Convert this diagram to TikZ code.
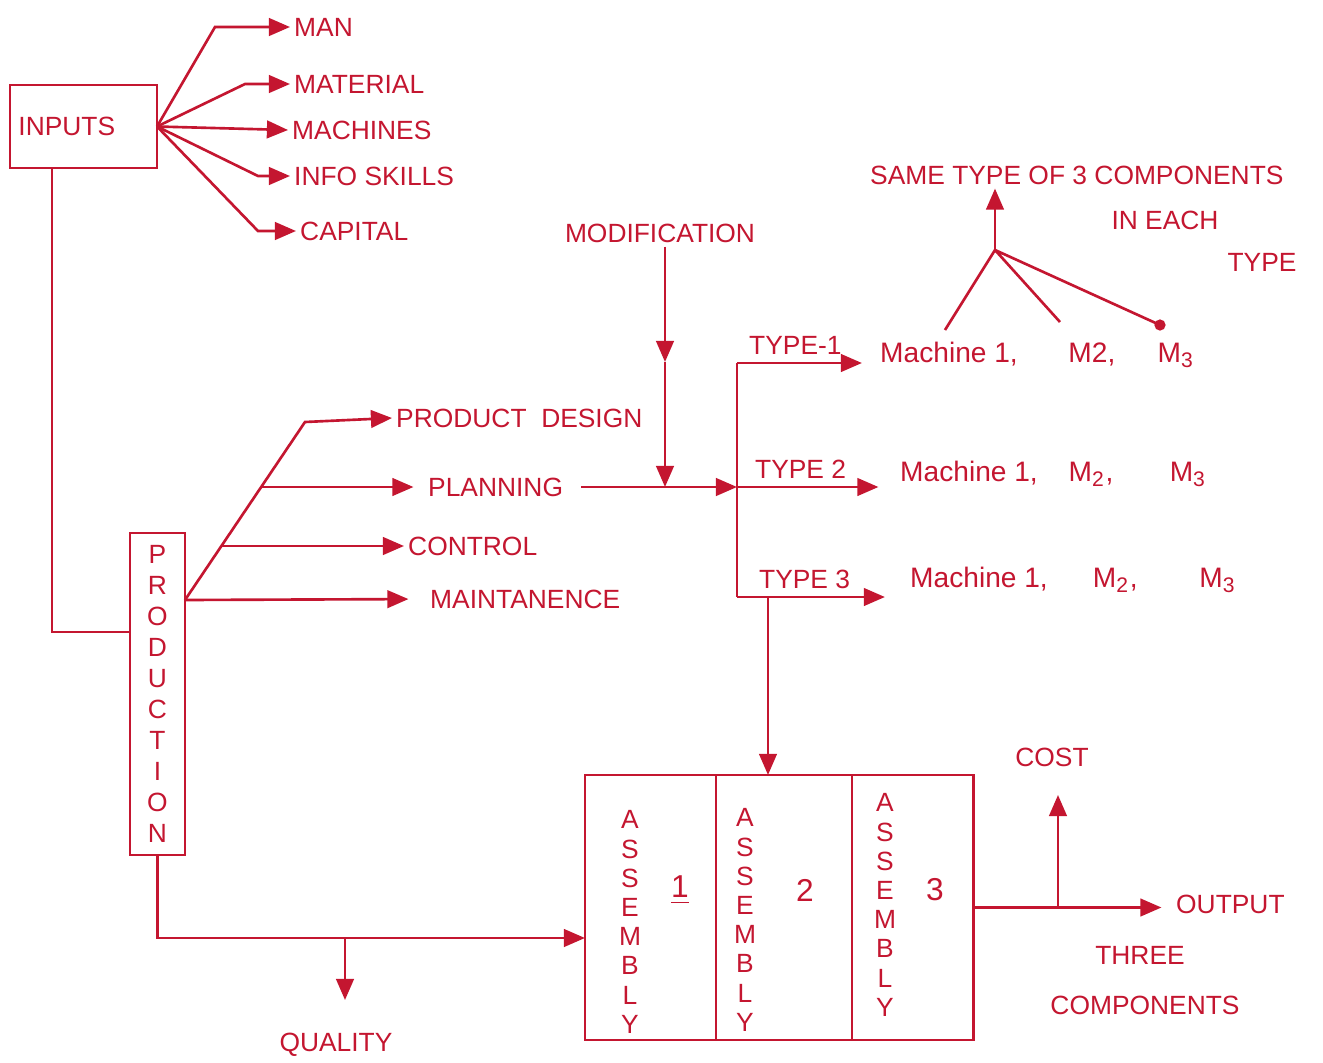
\documentclass[tikz,border=0pt]{standalone}
\usepackage{fontspec}
\setmainfont{Liberation Sans}
\usetikzlibrary{arrows.meta,positioning}
\definecolor{ink}{RGB}{196,22,48}
\tikzset{
  flow/.style={draw=ink, line width=0.75pt, -{Triangle[length=6pt,width=5pt]}},
  wire/.style={draw=ink, line width=0.75pt},
  lbl/.style={text=ink, font=\fontsize{7.5}{9}\selectfont, inner sep=1pt},
  box/.style={draw=ink, line width=0.75pt, outer sep=0pt},
  stack/.style={lbl, align=center, font=\fontsize{7.5}{8.3}\selectfont},
  mach/.style={lbl, anchor=west, font=\fontsize{8}{9}\selectfont},
}
\begin{document}
\begin{tikzpicture}[x=0.01cm, y=-0.01cm]
\useasboundingbox[fill=white] (0,0) rectangle (1323,1063);
% inputs
\node[box, lbl, inner sep=2pt, minimum width=1.47cm, minimum height=0.83cm, text width=1.3cm, align=left] (inputs) at (83.5,126.5) {INPUTS};
\node[lbl, anchor=west] (man) at (290,27) {MAN};
\node[lbl, anchor=west] (material) at (290,84) {MATERIAL};
\node[lbl, anchor=west] (machines) at (288,130) {MACHINES};
\node[lbl, anchor=west] (info) at (290,176) {INFO SKILLS};
\node[lbl, anchor=west] (capital) at (296,231) {CAPITAL};
\draw[flow] (inputs.east) -- (215,27) -- (man.west);
\draw[flow] (inputs.east) -- (245,84) -- (material.west);
\draw[flow] (inputs.east) -- (machines.west);
\draw[flow] (inputs.east) -- (258,176) -- (info.west);
\draw[flow] (inputs.east) -- (258,231) -- (capital.west);

% production
\node[box, stack, font=\fontsize{7.5}{8.8}\selectfont, minimum width=0.55cm, minimum height=3.22cm] (prod) at (157.5,694) {P\\R\\O\\D\\U\\C\\T\\I\\O\\N};
\coordinate (pin) at (130,632);
\draw[wire] (inputs.south west) ++(42,0) |- (pin);

\coordinate (pout) at (185,600);
\coordinate (kink) at (305,422);
\coordinate (kplan) at (261,487);
\coordinate (kctrl) at (221,546);
\node[lbl, anchor=west] (design) at (392,418) {PRODUCT\ \ DESIGN};
\node[lbl, anchor=west] (planning) at (424,487) {PLANNING};
\node[lbl, anchor=west] (control) at (404,546) {CONTROL};
\node[lbl, anchor=west] (maint) at (426,599) {MAINTANENCE};
\draw[flow] (pout) -- (kink) -- (design.west);
\draw[flow, shorten >=3pt] (kplan) -- (planning.west);
\draw[flow] (kctrl) -- (control.west);
\draw[flow, shorten >=5pt] (pout) -- (maint.west);

% modification and types
\node[lbl] (modif) at (660,233) {MODIFICATION};
\coordinate (mmid) at (665,362);
\coordinate (hub) at (737,487);
\coordinate (t1) at (737,363);
\coordinate (t3) at (737,597);
\draw[flow] (modif.south -| mmid) -- (mmid);
\draw[flow] (mmid) -- (mmid |- hub);
\draw[flow, shorten <=4pt] (planning.east) -- (hub);
\draw[wire] (t1) -- (t3);

\node[mach] (m1) at (876,355) {Machine 1,\hspace{1.8em}M2,\hspace{1.5em}M\textsubscript{3}};
\node[mach] (m2) at (896,474) {Machine 1,\hspace{1.1em}M\textsubscript{2},\hspace{2em}M\textsubscript{3}};
\node[mach] (m3) at (906,580) {Machine 1,\hspace{1.6em}M\textsubscript{2},\hspace{2.2em}M\textsubscript{3}};
\draw[flow, shorten >=4pt] (t1) -- node[lbl, above=1pt, pos=0.42] (ty1) {TYPE-1} (t1 -| m1.west);
\draw[flow, shorten >=5pt] (hub) -- node[lbl, above=1pt, pos=0.4] (ty2) {TYPE 2} (hub -| m2.west);
\draw[flow, shorten >=6pt] (t3) -- node[lbl, above=1pt, pos=0.4] (ty3) {TYPE 3} (t3 -| m3.west);

% same type fork
\node[lbl, anchor=west] (same) at (866,175) {SAME TYPE OF 3 COMPONENTS};
\node[lbl] (each) at (1165,220) {IN EACH};
\node[lbl] (type) at (1262,262) {TYPE};
\coordinate (fork) at (995,250);
\coordinate (leg1) at (945,330);
\coordinate (leg2) at (1060,322);
\coordinate (leg3) at (1160,325);
\draw[flow] (fork) -- (fork |- same.south);
\draw[wire] (leg1) -- (fork) -- (leg2) (fork) -- (leg3);
\fill[ink] (leg3) circle (1.6pt);

% assembly
\node[box, minimum width=1.31cm, minimum height=2.65cm] (asm1) at (650.5,907.5) {};
\node[box, minimum width=1.36cm, minimum height=2.65cm, right=0pt of asm1] (asm2) {};
\node[box, minimum width=1.21cm, minimum height=2.65cm, right=0pt of asm2] (asm3) {};
\node[stack] (a1) at (630,922) {A\\S\\S\\E\\M\\B\\L\\Y};
\node[stack] (a2) at (745,920) {A\\S\\S\\E\\M\\B\\L\\Y};
\node[stack] (a3) at (885,905) {A\\S\\S\\E\\M\\B\\L\\Y};
\node[lbl, font=\fontsize{9}{10}\selectfont] (n1) at (680,890) {\underline{1}};
\node[lbl, font=\fontsize{9}{10}\selectfont] (n2) at (805,890) {2};
\node[lbl, font=\fontsize{9}{10}\selectfont] (n3) at (935,890) {3};

\coordinate (t3d) at (768,597);
\draw[flow] (t3d) -- (t3d |- asm2.north);

% quality
\coordinate (qjoin) at (345,938);
\coordinate (qtip) at (345,1000);
\node[lbl] (quality) at (336,1045) {QUALITY};
\draw[flow] (prod.south) |- (qjoin -| asm1.west);
\draw[flow] (qjoin) -- (qtip);

% output and cost
\node[lbl, anchor=west] (output) at (1172,904) {OUTPUT};
\node[lbl] (cost) at (1052,757) {COST};
\node[lbl] (three) at (1140,955) {THREE};
\node[lbl] (comps) at (1145,1005) {COMPONENTS};
\coordinate (cj) at (1058,907.5);
\coordinate (ctip) at (1058,795);
\draw[flow, shorten >=3pt] (asm3.east) -- (asm3.east -| output.west);
\draw[flow] (cj) -- (ctip);
\end{tikzpicture}
\end{document}
